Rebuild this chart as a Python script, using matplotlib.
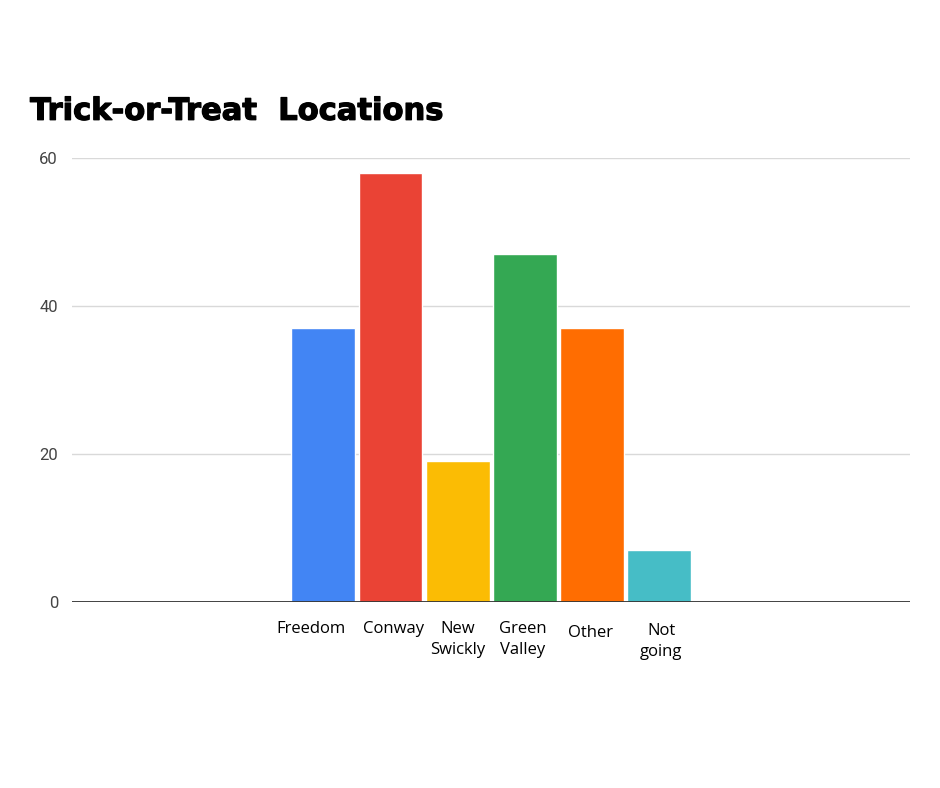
import matplotlib
matplotlib.use("Agg")
import matplotlib.pyplot as plt
import matplotlib.patheffects as pe
import matplotlib.transforms as mtransforms
import numpy as np

categories = ["Freedom", "Conway", "New\nSwickly", "Green\nValley", "Other", "Not\ngoing"]
values = [37, 58, 19, 47, 37, 7]
colors = ["#4285F4", "#EA4335", "#FBBC04", "#34A853", "#FF6D01", "#46BDC6"]
yticks = [0, 20, 40, 60]

fig = plt.figure(figsize=(9.4, 7.88), dpi=100)
ax = fig.add_axes([0.0766, 0.236, 0.8915, 0.5635])

x = np.arange(len(categories))
ax.bar(x, values, width=0.95, color=colors, edgecolor="white", linewidth=1, zorder=3)

ax.set_xlim(-3.74, 8.73)
ax.set_ylim(0, 60)
ax.set_yticks(yticks)
ax.set_yticklabels([str(v) for v in yticks], fontsize=12, color="#444444", family="Roboto")
ax.tick_params(axis="y", length=0, pad=10)
ax.grid(axis="y", color="#d9d9d9", linewidth=1, zorder=0)
ax.axhline(0, color="#333333", linewidth=1.3, zorder=4)

ax.set_xticks(x)
ax.set_xticklabels(categories, fontsize=12, family="Open Sans", color="black", linespacing=1.4)
ax.tick_params(axis="x", length=0, pad=14)

# small per-label nudges (in pixels) to mimic the reference placement
nudges = [(-12, 0), (3, 0), (0, 0), (-2, 0), (-2, -4), (2, -2)]
for lbl, (dx, dy) in zip(ax.get_xticklabels(), nudges):
    lbl.set_transform(lbl.get_transform() + mtransforms.ScaledTranslation(dx / 100, dy / 100, fig.dpi_scale_trans))

for s in ax.spines.values():
    s.set_visible(False)

fig.text(0.032, 0.848, "Trick-or-Treat  Locations", fontsize=22, fontweight="bold",
         family="DejaVu Sans", color="black", va="baseline", ha="left",
         path_effects=[pe.withStroke(linewidth=0.9, foreground="black")])

fig.savefig("out.png", dpi=100, facecolor="white")
